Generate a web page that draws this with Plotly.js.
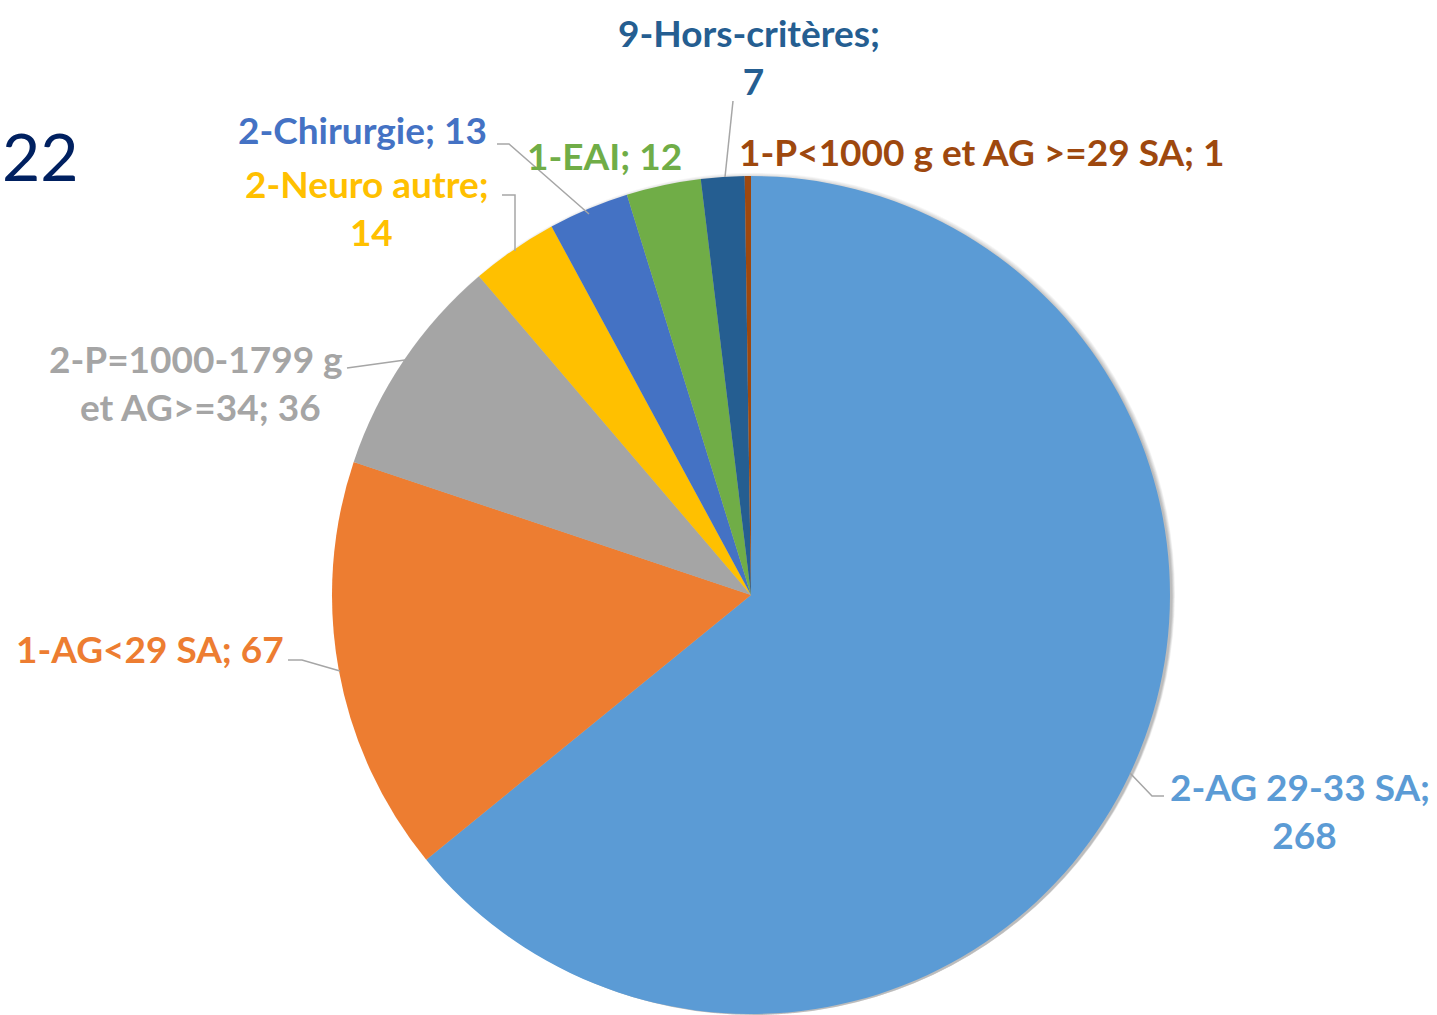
<!DOCTYPE html>
<html>
<head>
<meta charset="utf-8">
<script src="https://cdn.plot.ly/plotly-3.0.1.min.js"></script>
<style>html,body{margin:0;padding:0;background:#fff;}#chart{width:1437px;height:1015px;}</style>
</head>
<body>
<div id="chart"></div>
<script>
// ---- data ----
const categories = ["2-AG 29-33 SA", "1-AG<29 SA", "2-P=1000-1799 g et AG>=34", "2-Neuro autre", "2-Chirurgie", "1-EAI", "9-Hors-critères", "1-P<1000 g et AG >=29 SA"];
const values = [268, 67, 36, 14, 13, 12, 7, 1];
const colors = ["#5B9BD5", "#ED7D31", "#A5A5A5", "#FFC000", "#4472C4", "#70AD47", "#255E91", "#9E480E"];
const titleText = "22";

// ---- layout helpers (pixel -> paper) ----
const W = 1437, H = 1015;
const px = x => x / W, py = y => 1 - y / H;
const cx = 751, cy = 595, R = 419;

// label placement: index, anchor point, alignment, break after
const labelPlacement = [
  {i: 0, x: 1300, y: 810, xa: "center", brk: ";"},
  {i: 1, x: 14, y: 648, xa: "left", brk: null},
  {i: 2, x: 196, y: 382, xa: "center", brk: " g"},
  {i: 3, x: 367, y: 207, xa: "center", brk: ";"},
  {i: 4, x: 362, y: 129, xa: "center", brk: null},
  {i: 5, x: 604, y: 155, xa: "center", brk: null},
  {i: 6, x: 749, y: 56, xa: "center", brk: ";"},
  {i: 7, x: 737, y: 152, xa: "left", brk: null}
];

const leaderLines = [
  [[1130, 773], [1152, 796], [1164, 796]],
  [[288, 660], [302, 660], [340, 671]],
  [[347, 368], [405, 360]],
  [[502, 195], [515, 195], [515, 251]],
  [[497, 144], [509, 144], [589, 214]],
  [[733, 101], [725, 177]]
];

const annotations = labelPlacement.map(p => {
  let t = categories[p.i] + "; " + values[p.i];
  if (p.brk) t = t.replace(p.brk, p.brk + "<br>");
  return {
    xref: "paper", yref: "paper", x: px(p.x), y: py(p.y),
    xanchor: p.xa, yanchor: "middle", align: "center",
    text: t, showarrow: false,
    font: {family: "Lato, 'Open Sans', sans-serif", size: 37, color: colors[p.i], weight: 700}
  };
});
annotations.push({
  xref: "paper", yref: "paper", x: px(0), y: py(155), xanchor: "left", yanchor: "middle",
  text: titleText, showarrow: false,
  font: {family: "Lato, 'Open Sans', sans-serif", size: 66, color: "#002060"}
});

const shapes = leaderLines.map(pts => ({
  type: "path", xref: "paper", yref: "paper",
  path: pts.map((p, k) => (k ? "L" : "M") + px(p[0]) + "," + py(p[1])).join(" "),
  line: {color: "#A6A6A6", width: 1.5}
}));

// soft shadow pies behind
const traces = [];
for (let k = 8; k >= 1; k--) {
  const r = R + k * 0.9, ox = 3, oy = 4;
  traces.push({
    type: "pie", values: [1], sort: false, textinfo: "none", hoverinfo: "skip", showlegend: false,
    marker: {colors: ["rgba(0,0,0,0.035)"], line: {width: 0}},
    domain: {x: [px(cx + ox - r), px(cx + ox + r)], y: [py(cy + oy + r), py(cy + oy - r)]}
  });
}
traces.push({
  type: "pie", labels: categories, values: values, sort: false,
  direction: "clockwise", rotation: 0, textinfo: "none", showlegend: false,
  marker: {colors: colors, line: {width: 0}},
  domain: {x: [px(cx - R), px(cx + R)], y: [py(cy + R), py(cy - R)]}
});

Plotly.newPlot("chart", traces, {
  width: W, height: H, margin: {l: 0, r: 0, t: 0, b: 0},
  paper_bgcolor: "#fff", showlegend: false,
  annotations: annotations, shapes: shapes
}, {displayModeBar: false, staticPlot: true});
</script>
</body>
</html>
